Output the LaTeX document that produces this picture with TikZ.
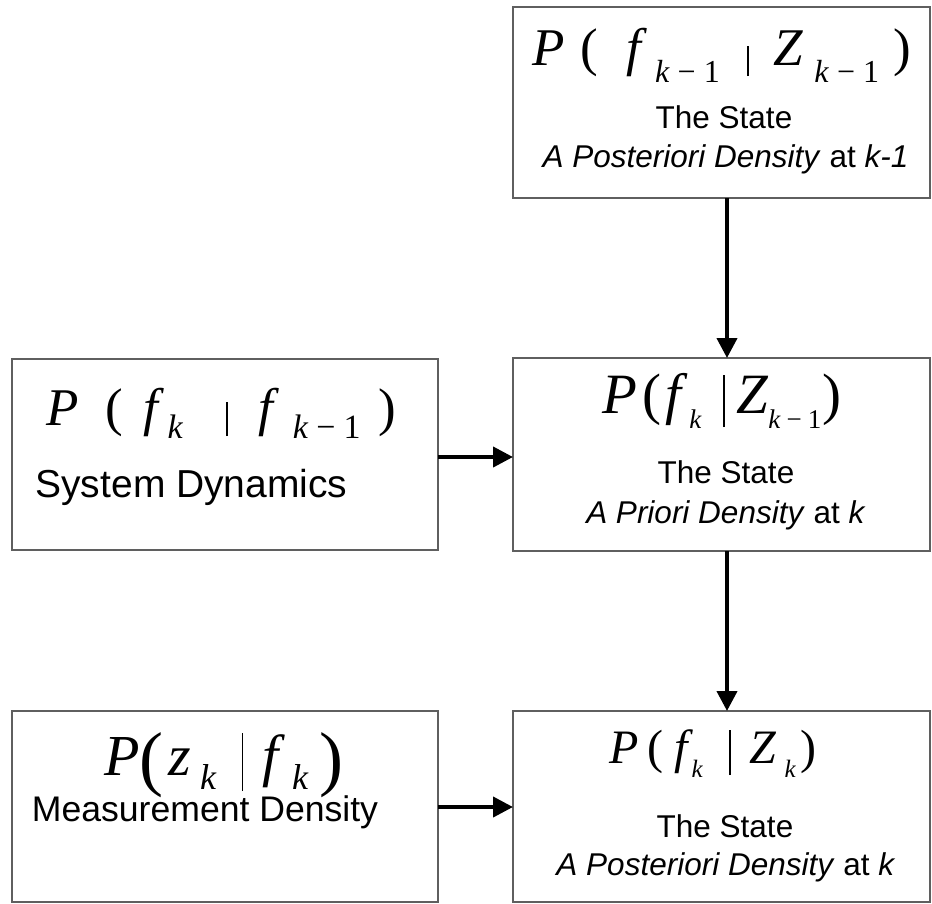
\documentclass[tikz,border=0pt]{standalone}
\usepackage{fontspec}
\setmainfont{Liberation Sans}
\newfontfamily\tms{Liberation Serif}
\usetikzlibrary{arrows.meta}
% font size shorthand
\newcommand\fs[1]{\fontsize{#1}{#1}\selectfont}
% conditioning bar: height above and depth below the baseline
\newcommand\vbar[2]{\rule[-#2pt]{1.8pt}{\dimexpr #1pt+#2pt\relax}}
% lowered subscript of a given size
\newcommand\low[3]{\smash{\raisebox{-#1pt}{\fs{#2}#3}}}
\definecolor{boxline}{RGB}{95,95,95}
\tikzset{
  box/.style={draw=boxline, line width=1.3pt, rectangle, inner sep=0pt, outer sep=0pt},
  arr/.style={line width=4pt, -{Triangle[length=20pt,width=20pt]}},
  eq/.style={anchor=base west, inner sep=0pt, font=\tms},
  lbl/.style={anchor=base, inner sep=0pt, text=black}
}
\begin{document}
\begin{tikzpicture}[x=1pt,y=-1pt]
\useasboundingbox (0,0) rectangle (932,903);

% boxes
\node[box, minimum width=417pt, minimum height=191pt] (postprev) at (721.5,102.5) {};
\node[box, minimum width=426pt, minimum height=191pt] (dyn)      at (225,454.5) {};
\node[box, minimum width=417pt, minimum height=193pt] (prior)    at (721.5,454.5) {};
\node[box, minimum width=426pt, minimum height=191pt] (meas)     at (225,806.5) {};
\node[box, minimum width=417pt, minimum height=191pt] (post)     at (721.5,806.5) {};

% formulas
\node[eq] (eqpostprev) at (532,65) {\fs{53}\textit{P}\hspace{16pt}(\hspace{28pt}\textit{f}\hspace{8pt}\low{17}{32}{\textit{k}\hspace{8pt}−\hspace{8pt}1}\hspace{27pt}\vbar{19}{11}\hspace{25pt}\textit{Z}\hspace{11pt}\low{17}{32}{\textit{k}\hspace{8pt}−\hspace{8pt}1}\hspace{14pt})};
\node[eq] (eqdyn) at (46,425) {\fs{53}\textit{P}\hspace{26.6pt}(\hspace{21pt}\textit{f}\hspace{3pt}\low{13}{34}{\textit{k}}\hspace{43pt}\vbar{23}{11}\hspace{30pt}\textit{f}\hspace{14pt}\low{13}{34}{\textit{k}\hspace{8pt}−\hspace{8pt}1}\hspace{18pt})};
\node[eq] (eqprior) at (602,413) {\fs{57}\textit{P}\hspace{5pt}(\hspace{4pt}\textit{f}\hspace{2pt}\low{15}{27}{\textit{k}}\hspace{21pt}\vbar{38}{14}\hspace{11.5pt}\textit{Z}\low{15}{27}{\textit{k}\hspace{6pt}−\hspace{6pt}1}\hspace{1pt})};
\node[eq] (eqmeas) at (104,775) {\fs{58}\textit{P}\smash{\raisebox{-7pt}{\fs{72}(}}\hspace{5pt}\textit{z}\hspace{9pt}\low{14}{36}{\textit{k}}\hspace{25pt}\smash{\vbar{42}{16}}\hspace{19.5pt}\textit{f}\hspace{6.4pt}\low{14}{36}{\textit{k}}\hspace{11pt}\smash{\raisebox{-7pt}{\fs{72})}}};
\node[eq] (eqpost) at (609,763) {\fs{48}\textit{P}\hspace{8.7pt}(\hspace{11.6pt}\textit{f}\hspace{-2pt}\low{14}{25}{\textit{k}}\hspace{26pt}\vbar{33}{12}\hspace{18.5pt}\textit{Z}\hspace{8pt}\low{14}{25}{\textit{k}}\hspace{5pt})};

% captions
\node[lbl, font=\fs{31.5}] (t1a) at (724,128) {The State};
\node[lbl, font=\fs{31.5}] (t1b) at (725.5,167) {\textit{A Posteriori Density} at \textit{k-1}};
\node[lbl, font=\fs{39}]   (t2)  at (191.5,497) {System Dynamics};
\node[lbl, font=\fs{31.5}] (t3a) at (726,483) {The State};
\node[lbl, font=\fs{31.5}] (t3b) at (726,523) {\textit{A Priori Density} at \textit{k}};
\node[lbl, font=\fs{35.6}] (t4)  at (205,821) {Measurement Density};
\node[lbl, font=\fs{31.5}] (t5a) at (725,837) {The State};
\node[lbl, font=\fs{31.5}] (t5b) at (726,875) {\textit{A Posteriori Density} at \textit{k}};

% connectors
\coordinate (vx) at (727,0);
\coordinate (hya) at (0,457);
\coordinate (hyb) at (0,807);
\draw[arr] (postprev.south -| vx) -- (prior.north -| vx);
\draw[arr] (prior.south -| vx) -- (post.north -| vx);
\draw[arr] (dyn.east |- hya) -- (prior.west |- hya);
\draw[arr] (meas.east |- hyb) -- (post.west |- hyb);
\end{tikzpicture}
\end{document}
